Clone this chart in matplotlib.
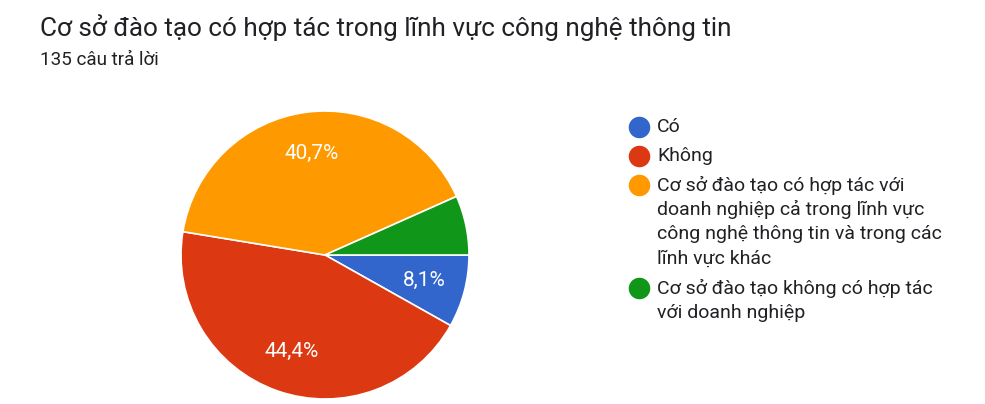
import matplotlib
matplotlib.use("Agg")
import matplotlib.pyplot as plt
from matplotlib.lines import Line2D

plt.rcParams['font.family'] = ['Roboto', 'DejaVu Sans']

title = "Cơ sở đào tạo có hợp tác trong lĩnh vực công nghệ thông tin"
subtitle = "135 câu trả lời"

labels = [
    "Có",
    "Không",
    "Cơ sở đào tạo có hợp tác với\ndoanh nghiệp cả trong lĩnh vực\ncông nghệ thông tin và trong các\nlĩnh vực khác",
    "Cơ sở đào tạo không có hợp tác\nvới doanh nghiệp",
]
counts = [11, 60, 55, 9]
colors = ["#3366cc", "#dc3912", "#ff9900", "#109618"]

W, H = 985, 404
fig = plt.figure(figsize=(W / 100, H / 100), dpi=100)

# pie axes, placed in pixel terms
cx, cy, r = 325, 255, 144
ax = fig.add_axes([(cx - r) / W, (H - cy - r) / H, 2 * r / W, 2 * r / H])


def pct_label(p):
    if p < 7.5:
        return ""
    return f"{p:.1f}%".replace(".", ",")


wedges, texts, autotexts = ax.pie(
    counts, colors=colors, startangle=0, counterclock=False,
    autopct=pct_label, pctdistance=0.71,
    wedgeprops=dict(edgecolor="white", linewidth=1.2),
    textprops=dict(color="white", fontsize=15),
)
ax.set_xlim(-1, 1)
ax.set_ylim(-1, 1)
ax.set_aspect("equal")

fig.text(40 / W, 1 - 28 / H, title, fontsize=18.8, color="#202124", va="center")
fig.text(40 / W, 1 - 60 / H, subtitle, fontsize=13.6, color="#202124", va="center")

# legend drawn by hand so the dot sits beside the first line
line_h = 24.6
y = 127
for lab, col in zip(labels, colors):
    fig.add_artist(Line2D([639 / W], [1 - y / H], marker="o", markersize=14.5,
                          color=col, linestyle="none"))
    lines = lab.split("\n")
    for i, ln in enumerate(lines):
        fig.text(657 / W, 1 - (y + i * line_h) / H, ln, fontsize=14,
                 color="#202124", va="center")
    y += line_h * len(lines) + 4.5

fig.savefig("out.png", dpi=100)
